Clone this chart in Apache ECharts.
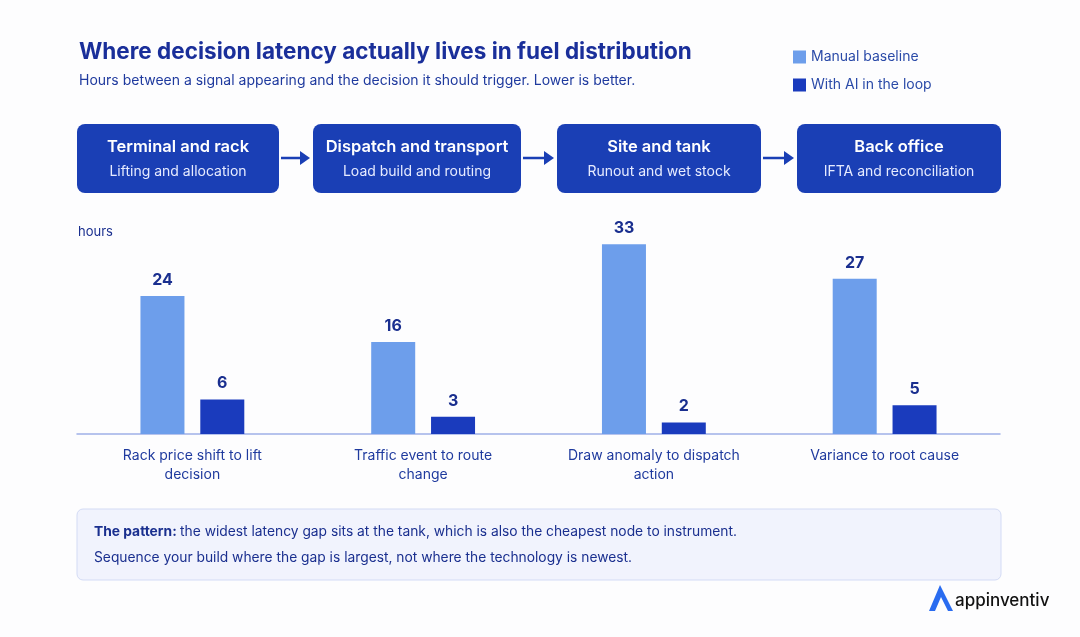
<!DOCTYPE html>
<html><head><meta charset="utf-8">
<script src="https://cdn.jsdelivr.net/npm/echarts@6/dist/echarts.min.js"></script>
<style>html,body{margin:0;padding:0;background:#fdfdfe}#c{width:1080px;height:637px}</style>
</head><body><div id="c"></div>
<script>
const categories = ['Rack price shift to lift\ndecision','Traffic event to route\nchange','Draw anomaly to dispatch\naction','Variance to root cause'];
const manualBaseline = [24,16,33,27];
const withAI = [6,3,2,5];
const stages = [['Terminal and rack','Lifting and allocation'],['Dispatch and transport','Load build and routing'],['Site and tank','Runout and wet stock'],['Back office','IFTA and reconciliation']];

const F = 'Inter, "Noto Sans", sans-serif';
const boxX = [[77,279],[313,521],[557,761],[797,1001]];
const graphic = [];
boxX.forEach((b,i)=>{
  graphic.push({type:'rect',shape:{x:b[0],y:124,width:b[1]-b[0],height:69,r:8},style:{fill:'#1a3fb5'}});
  graphic.push({type:'text',style:{x:(b[0]+b[1])/2,y:147,text:stages[i][0],fill:'#fff',font:'600 16.5px '+F,align:'center',verticalAlign:'middle'}});
  graphic.push({type:'text',style:{x:(b[0]+b[1])/2,y:172,text:stages[i][1],fill:'#e6ebff',font:'14px '+F,align:'center',verticalAlign:'middle'}});
  if(i<3){
    const x1=b[1]+2, x2=boxX[i+1][0]-3;
    graphic.push({type:'line',shape:{x1:x1,y1:158,x2:x2-8,y2:158},style:{stroke:'#1a3fb5',lineWidth:2.5}});
    graphic.push({type:'polygon',shape:{points:[[x2-10,151],[x2,158],[x2-10,165]]},style:{fill:'#1a3fb5'}});
  }
});
graphic.push({type:'rect',shape:{x:77,y:509,width:924,height:71,r:6},style:{fill:'#f1f3fd',stroke:'#d3dbf5',lineWidth:1}});
graphic.push({type:'text',style:{x:94,y:532,verticalAlign:'middle',rich:{b:{font:'700 13.8px '+F,fill:'#1a2f8f'},n:{font:'13.8px '+F,fill:'#1a2f8f'}},text:'{b|The pattern:} {n|the widest latency gap sits at the tank, which is also the cheapest node to instrument.}'}});
graphic.push({type:'text',style:{x:94,y:558,verticalAlign:'middle',text:'Sequence your build where the gap is largest, not where the technology is newest.',font:'13.8px '+F,fill:'#1a2f8f'}});
graphic.push({type:'polygon',shape:{points:[[940,585],[929,611],[935,611],[941,597],[948,611],[953,611]]},style:{fill:'#2a6cf0'}});
graphic.push({type:'text',style:{x:955,y:601,text:'appinventiv',font:'500 17px '+F,fill:'#111',verticalAlign:'middle'}});
graphic.push({type:'text',style:{x:78,y:232,text:'hours',font:'13px '+F,fill:'#1a2f8f',verticalAlign:'middle'}});

const chart = echarts.init(document.getElementById('c'));
chart.setOption({
  backgroundColor:'#fdfdfe',
  title:{text:'Where decision latency actually lives in fuel distribution',subtext:'Hours between a signal appearing and the decision it should trigger. Lower is better.',left:74,top:36,itemGap:10,
    textStyle:{fontFamily:F,fontSize:22.5,fontWeight:700,color:'#1a2f9a'},subtextStyle:{fontFamily:F,fontSize:14,color:'#1f3a9e'}},
  legend:{orient:'vertical',left:788,top:45,itemWidth:13,itemHeight:13,itemGap:14,icon:'rect',textStyle:{fontFamily:F,fontSize:14,color:'#2a4aa8'},data:['Manual baseline','With AI in the loop']},
  grid:{left:77,right:80,top:204,bottom:203},
  xAxis:{type:'category',data:categories,axisTick:{show:false},axisLine:{lineStyle:{color:'#9fb0e8',width:1.5}},
    axisLabel:{fontFamily:F,fontSize:14,color:'#1f3a9e',lineHeight:19,margin:12}},
  yAxis:{type:'value',min:0,max:40,show:false,splitLine:{show:false}},
  graphic:graphic,
  series:[
    {name:'Manual baseline',type:'bar',data:manualBaseline,barWidth:44,barGap:'36%',itemStyle:{color:'#6d9eeb'},
      label:{show:true,position:'top',distance:8,fontFamily:F,fontSize:16,fontWeight:700,color:'#1a2f8f'}},
    {name:'With AI in the loop',type:'bar',data:withAI,barWidth:44,itemStyle:{color:'#1a3bbd'},
      label:{show:true,position:'top',distance:8,fontFamily:F,fontSize:16,fontWeight:700,color:'#1a2f8f'}}
  ]
});
</script></body></html>
